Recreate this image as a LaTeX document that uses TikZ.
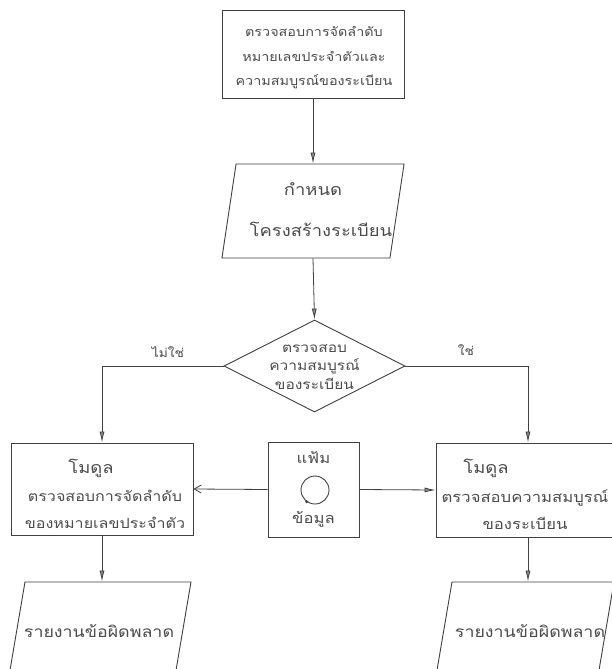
\documentclass[tikz,border=0pt]{standalone}
\usepackage{fontspec}
\newfontfamily\thai[Script=Thai,FakeStretch=1.15]{Loma}
\usetikzlibrary{shapes.geometric,arrows.meta}
\definecolor{ln}{gray}{0.25}
\definecolor{tx}{gray}{0.3}
\definecolor{tip}{gray}{0.55}
\newcommand{\fs}[2]{\fontsize{#1}{#2}\selectfont}
\begin{document}
\begin{tikzpicture}[x=1pt,y=-1pt,
  every node/.style={font=\thai\fs{13}{24}, text=tx, align=center, inner sep=0pt},
  procbox/.style={draw=ln, line width=0.9pt, rectangle},
  iobox/.style={draw=ln, line width=0.9pt, rectangle, xslant=#1, transform shape},
  decision/.style={draw=ln, line width=0.9pt, diamond, aspect=2, inner sep=2pt},
  arr/.style={draw=ln, line width=0.8pt, -{Latex[length=11pt,width=5pt,fill=tip]}},
  arrbarb/.style={draw=ln, line width=0.8pt, -{Straight Barb[length=7pt,width=8pt]}},
  lbl/.style={font=\thai\fs{12}{16}}
]
\useasboundingbox (0,0) rectangle (611,669);
\fill[white] (0,0) rectangle (611,669);

% top process box
\node[procbox, minimum width=182pt, minimum height=88pt] (top) at (313,54) {};
\node[font=\thai\fs{12.5}{24.5}] (topt) at (314,58)
  {ตรวจสอบการจัดลำดับ\\หมายเลขประจำตัวและ\\ความสมบูรณ์ของระเบียน};

% structure definition
\node[iobox=0.15, minimum width=168pt, minimum height=94pt] (p1) at (313,211) {};
\node[font=\thai\fs{16}{20}] (p1a) at (313,189) {กำหนด};
\node[font=\thai\fs{16}{20}] (p1b) at (321,229) {โครงสร้างระเบียน};

% decision
\node[decision, minimum width=181pt, minimum height=92pt] (d) at (314.5,366) {};
\node[font=\thai\fs{13.5}{18.5}] (dt) at (314.5,367) {ตรวจสอบ\\ความสมบูรณ์\\ของระเบียน};

% left module
\node[procbox, minimum width=182pt, minimum height=92pt] (lb) at (102,489) {};
\node[font=\thai\fs{16}{20}] (lb1) at (91,468) {โมดูล};
\node[font=\thai\fs{14}{27}] (lb2) at (105,509) {ตรวจสอบการจัดลำดับ\\ของหมายเลขประจำตัว};

% data file
\node[procbox, minimum width=91pt, minimum height=95pt] (mid) at (313.5,489.5) {};
\node[font=\thai\fs{14.5}{20}] (midt) at (313.5,457) {แฟ้ม};
\node[font=\thai\fs{14.5}{20}] (midb) at (313.5,519) {ข้อมูล};
\node[draw=ln, line width=0.9pt, circle, minimum size=28pt] (circ) at (315,490) {};
\fill[ln] (circ.235) circle (1.6pt);

% right module
\node[procbox, minimum width=184pt, minimum height=94pt] (rb) at (528,490) {};
\node[font=\thai\fs{16}{20}] (rb1) at (486,468) {โมดูล};
\node[font=\thai\fs{14.5}{27}] (rb2) at (525,510) {ตรวจสอบความสมบูรณ์\\ของระเบียน};

% error reports
\node[iobox=0.17, minimum width=166pt, minimum height=94pt] (lp) at (100,629) {};
\node[font=\thai\fs{15.5}{20}] (lpt) at (99,631) {รายงานข้อผิดพลาด};
\node[iobox=0.17, minimum width=162pt, minimum height=94pt] (rp) at (525,629) {};
\node[font=\thai\fs{15.5}{20}] (rpt) at (530,631) {รายงานข้อผิดพลาด};

% connectors
\draw[arr] (top.south) -- (top.south |- p1.north);
\draw[arr] (top.south |- p1.south) -- (d.north);
\draw[arr] (d.west) -| (lb.north);
\draw[arr] (d.east) -| (rb.north);
\node[lbl] (no) at (168,352) {ไม่ใช่};
\node[lbl] (yes) at (466,350) {ใช่};
\draw[arrbarb] (mid.west) -- (lb.east);
\draw[arr] (mid.east) -- (rb.west);
\draw[arr] (lb.south) -- (lb.south |- lp.north);
\draw[arr] (rb.south) -- (rb.south |- rp.north);
\end{tikzpicture}
\end{document}
